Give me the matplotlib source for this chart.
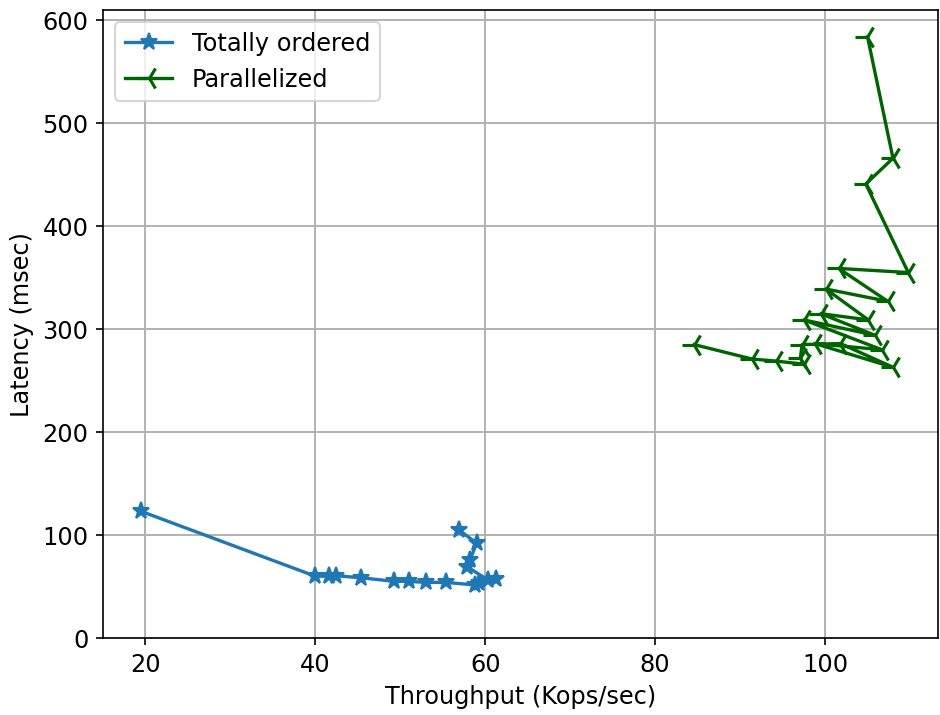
import numpy as np
import matplotlib
matplotlib.use("Agg")
import matplotlib.pyplot as plt

# Totally ordered
ordered_tput = [19.5, 40.0, 41.6, 42.4, 45.4, 49.3, 51.0, 53.0, 55.4, 58.8, 59.3,
                61.3, 60.3, 57.9, 58.2, 59.0, 56.9]
ordered_lat = [123, 60, 60, 60.5, 58.5, 55, 55, 54, 54, 51.5, 53,
               57, 56.5, 69, 76, 92, 105]

# Parallelized
par_tput = [105.0, 108.0, 104.8, 109.8, 101.6, 107.4, 100.1, 105.1, 99.5, 105.9,
            97.5, 106.7, 98.8, 108.0, 101.8, 97.3, 97.1, 97.5, 94.2, 91.4, 84.6]
par_lat = [584, 466, 441, 355, 359, 327, 339, 309, 315, 294,
           309, 280, 286, 263, 286, 285, 272, 266, 269, 271, 285]

plt.rcParams["font.size"] = 11.5

fig = plt.figure(figsize=(940 / 150, 715 / 150), dpi=150)
ax = fig.add_axes([103 / 940, 1 - 638 / 715, 835 / 940, 628 / 715])

ax.plot(ordered_tput, ordered_lat, marker="*", color="#1f77b4", markersize=8.5,
        linewidth=1.6, label="Totally ordered")
ax.plot(par_tput, par_lat, marker="3", color="darkgreen", markersize=12,
        linewidth=1.6, markeredgewidth=1.5, label="Parallelized")

ax.set_xlim(15, 113.3)
ax.set_ylim(0, 610)
ax.set_xlabel("Throughput (Kops/sec)")
ax.set_ylabel("Latency (msec)")
ax.grid(True, linewidth=0.9)
ax.legend(loc="upper left")

plt.savefig("out.png", dpi=150)
plt.close()
